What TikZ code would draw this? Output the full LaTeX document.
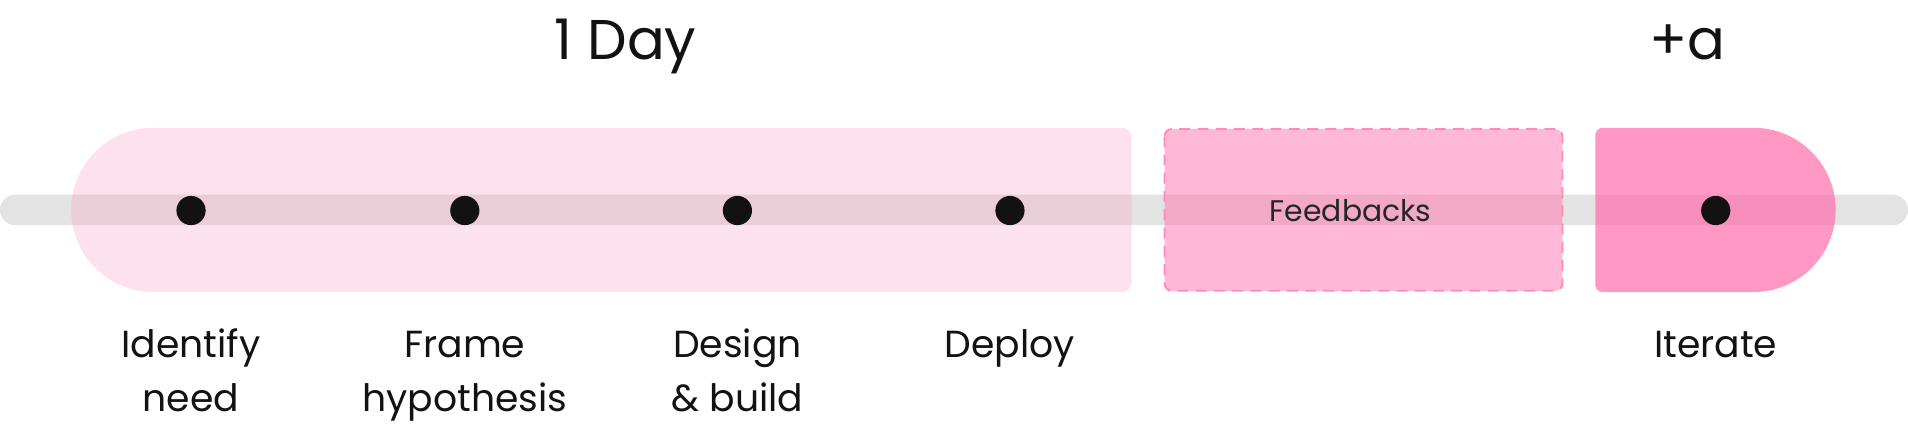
\documentclass[tikz,border=0pt]{standalone}
\usepackage{fontspec}
\setmainfont{Poppins}
\begin{document}
\begin{tikzpicture}[x=1pt,y=1pt,
  lbl/.style={font=\fontsize{31}{44}\selectfont, align=center, text=black!93, anchor=base},
  dot/.style={circle, fill=black!93, minimum size=24pt, inner sep=0pt}]
\definecolor{barc}{RGB}{227,227,227}
\definecolor{pinkA}{RGB}{248,152,189}
\definecolor{pinkB}{RGB}{255,113,171}
\definecolor{pinkC}{RGB}{255,109,171}
\definecolor{dashc}{RGB}{255,138,184}
\useasboundingbox (0,0) rectangle (1568,-348);
% bar
\fill[barc, rounded corners=12.5pt] (0,-160) rectangle (1568,-185);
% light box
\fill[pinkA, fill opacity=0.29]
  (126,-105) -- (922,-105) arc[start angle=90,end angle=0,radius=8] -- (930,-232)
  arc[start angle=0,end angle=-90,radius=8] -- (126,-240)
  arc[start angle=270,end angle=90,radius=67.5] -- cycle;
% feedback box
\fill[pinkB, fill opacity=0.5, rounded corners=6pt] (957,-106) rectangle (1284,-239);
\draw[dashc, line width=1.5pt, dash pattern=on 9pt off 6pt, rounded corners=6pt] (957,-106) rectangle (1284,-239);
% iterate box
\fill[pinkC, fill opacity=0.7]
  (1317,-105) -- (1441,-105) arc[start angle=90,end angle=-90,radius=67.5] -- (1317,-240)
  arc[start angle=270,end angle=180,radius=6] -- (1311,-111)
  arc[start angle=180,end angle=90,radius=6] -- cycle;
\node[font=\fontsize{24.5}{28}\selectfont, text=black!85] (fb) at (1110,-173) {Feedbacks};
\node[dot] (d1) at (157,-173) {};
\node[dot] (d2) at (382,-173) {};
\node[dot] (d3) at (606,-173) {};
\node[dot] (d4) at (830,-173) {};
\node[dot] (d5) at (1410,-173) {};
\node[lbl] (l1) at (157,-338) {Identify\\need};
\node[lbl] (l2) at (382,-338) {Frame\\hypothesis};
\node[lbl] (l3) at (606,-338) {Design\\\& build};
\node[lbl] (l4) at (830,-294) {Deploy};
\node[lbl] (l5) at (1410,-294) {Iterate};
\node[font=\fontsize{46}{50}\selectfont, text=black!93, anchor=base] (day) at (514,-49) {1 Day};
\node[font=\fontsize{46}{50}\selectfont, text=black!93, anchor=base] (plus) at (1387,-49) {+a};
\end{tikzpicture}
\end{document}
